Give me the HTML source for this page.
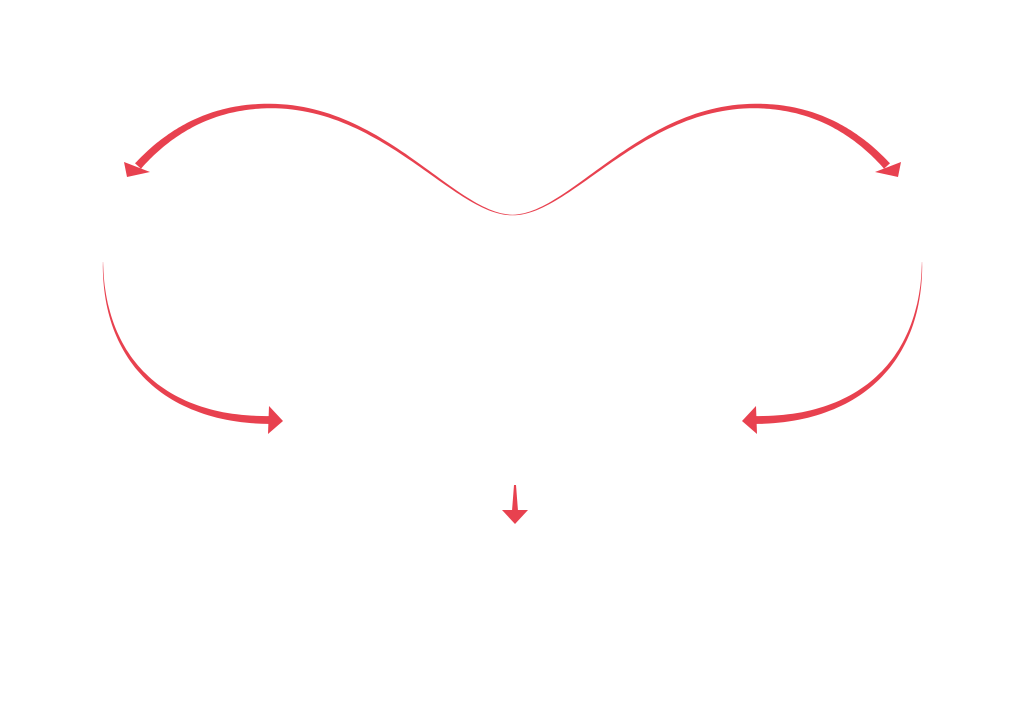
<!DOCTYPE html>
<html><head><meta charset="utf-8"><style>html,body{margin:0;background:#fff}svg{display:block}</style></head>
<body>
<svg id="s" width="1024" height="724" viewBox="0 0 1024 724" xmlns="http://www.w3.org/2000/svg">
<g id="g" fill="#e8414f">
<polygon points="124,162 127,177 150,172"/>
<polygon points="901,162 898,177 875,172"/>
<polygon points="269,406 283,421 268,434"/>
<polygon points="756,406 742,421 757,434"/>
<polygon points="502,510 528,510 515,524"/>
<polygon points="514,485 516,485 518,511 512,511"/>
</g>
</svg>
<script>
function bez(p,t){var u=1-t;return [u*u*u*p[0][0]+3*u*u*t*p[1][0]+3*u*t*t*p[2][0]+t*t*t*p[3][0],u*u*u*p[0][1]+3*u*u*t*p[1][1]+3*u*t*t*p[2][1]+t*t*t*p[3][1]];}
function taper(p,w0,w1,mir){var L=[],R=[],N=60;for(var i=0;i<=N;i++){var t=i/N,a=bez(p,Math.max(0,t-0.005)),b=bez(p,Math.min(1,t+0.005)),c=bez(p,t);var dx=b[0]-a[0],dy=b[1]-a[1],l=Math.hypot(dx,dy)||1;var w=(w0+(w1-w0)*t)/2;L.push([c[0]-dy/l*w,c[1]+dx/l*w]);R.push([c[0]+dy/l*w,c[1]-dx/l*w]);}
var pts=L.concat(R.reverse());var s=pts.map(function(q){return (mir?1025-q[0]:q[0]).toFixed(1)+','+q[1].toFixed(1)}).join(' ');
var e=document.createElementNS('http://www.w3.org/2000/svg','polygon');e.setAttribute('points',s);document.getElementById('g').appendChild(e);}
[false,true].forEach(function(m){
taper([[512.5,215],[455,215],[385,106],[270,106]],0.6,4.5,m);
taper([[270,106],[210,106],[168,133],[138,166]],4.5,8,m);
taper([[103,262],[103,360],[165,421],[272,420]],0.3,8,m);
});
</script>
</body></html>
